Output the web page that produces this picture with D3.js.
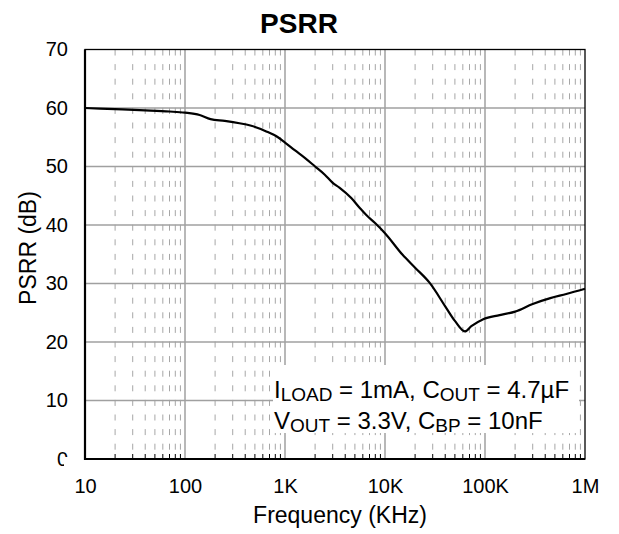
<!DOCTYPE html>
<html>
<head>
<meta charset="utf-8">
<script src="https://cdn.jsdelivr.net/npm/d3@7"></script>
<style>
  body { margin: 0; background: #fff; }
  svg { display: block; font-family: "Liberation Sans", Arial, sans-serif; }
</style>
</head>
<body>
<svg id="chart" width="619" height="534"></svg>
<script>
// ---- data (frequency in KHz as labelled on the axis, PSRR in dB) ----
const freqs = [10, 20, 40, 70, 100, 140, 180, 250, 350, 450, 650, 850, 1000, 1250, 1600, 2000, 2500, 3000, 3500, 4600, 5600, 6500, 8000, 10000, 15000, 20000, 28000, 40000, 50000, 63000, 73000, 96000, 140000, 200000, 300000, 450000, 650000, 1000000];
const psrr  = [60.0, 59.8, 59.6, 59.4, 59.2, 58.8, 58.1, 57.8, 57.4, 57.0, 56.0, 55.0, 54.1, 52.8, 51.4, 50.0, 48.6, 47.2, 46.4, 44.6, 42.9, 41.7, 40.3, 38.6, 34.9, 32.7, 30.1, 26.1, 23.6, 21.8, 22.7, 23.9, 24.6, 25.2, 26.5, 27.5, 28.2, 29.1];
const xTickValues = [10, 100, 1000, 10000, 100000, 1000000];
const xTickLabels = ["10", "100", "1K", "10K", "100K", "1M"];
const yTickValues = [0, 10, 20, 30, 40, 50, 60, 70];
const titleText = "PSRR";
const xTitle = "Frequency (KHz)";
const yTitle = "PSRR (dB)";

const svg = d3.select("#chart");
const L = 85, R = 585, T = 49.5, B = 459;
const x = d3.scaleLog().domain([10, 1e6]).range([L, R]);
const y = d3.scaleLinear().domain([0, 70]).range([B, T]);

// minor (dashed) vertical grid
const minor = [];
for (let d = 10; d < 1e6; d *= 10) for (let k = 2; k <= 9; k++) minor.push(d * k);

const grid = svg.append("g");
grid.selectAll("line.minor").data(minor).join("line")
  .attr("x1", d => x(d)).attr("x2", d => x(d))
  .attr("y1", T).attr("y2", B)
  .attr("stroke", "#a6a6a6").attr("stroke-width", 1)
  .attr("stroke-dasharray", "6,8.6");
// major vertical grid
grid.selectAll("line.vmaj").data(xTickValues.slice(1, -1)).join("line")
  .attr("x1", d => x(d)).attr("x2", d => x(d))
  .attr("y1", T).attr("y2", B)
  .attr("stroke", "#a0a0a0").attr("stroke-width", 1.5);
// major horizontal grid
grid.selectAll("line.hmaj").data(yTickValues.slice(1, -1)).join("line")
  .attr("x1", L).attr("x2", R)
  .attr("y1", d => y(d)).attr("y2", d => y(d))
  .attr("stroke", "#a0a0a0").attr("stroke-width", 1.5);

// minor ticks at bottom (inside)
svg.append("g").selectAll("line").data(minor).join("line")
  .attr("x1", d => x(d)).attr("x2", d => x(d))
  .attr("y1", B - 5).attr("y2", B)
  .attr("stroke", "#000").attr("stroke-width", 1);

// annotation box (covers grid)
svg.append("rect").attr("x", 273).attr("y", 365).attr("width", 306).attr("height", 68)
  .attr("fill", "#fff");

// curve
const line = d3.line().x((d, i) => x(freqs[i])).y(d => y(d)).curve(d3.curveMonotoneX);
svg.append("path").datum(psrr)
  .attr("d", line).attr("fill", "none")
  .attr("stroke", "#000").attr("stroke-width", 2.2).attr("stroke-linejoin", "round");

// frame
svg.append("rect").attr("x", L).attr("y", T).attr("width", R - L).attr("height", B - T)
  .attr("fill", "none").attr("stroke", "#000").attr("stroke-width", 1.3);
svg.append("line").attr("x1", L).attr("x2", L).attr("y1", T).attr("y2", B + 1)
  .attr("stroke", "#000").attr("stroke-width", 2.2);
svg.append("line").attr("x1", L).attr("x2", R).attr("y1", B).attr("y2", B)
  .attr("stroke", "#000").attr("stroke-width", 2);

// axes labels
const xAxis = d3.axisBottom(x).tickValues(xTickValues)
  .tickFormat((d, i) => xTickLabels[i]).tickSize(0).tickPadding(20);
const gx = svg.append("g").attr("transform", `translate(0,${B})`).call(xAxis);
gx.select(".domain").remove();
gx.selectAll("text").attr("font-size", 20).attr("fill", "#000")
  .attr("font-family", "Liberation Sans, Arial, sans-serif");

const yAxis = d3.axisLeft(y).tickValues(yTickValues).tickSize(0).tickPadding(17);
const gy = svg.append("g").attr("transform", `translate(${L},0)`).call(yAxis);
gy.select(".domain").remove();
gy.selectAll("text").attr("font-size", 20).attr("fill", "#000")
  .attr("font-family", "Liberation Sans, Arial, sans-serif");
// partly hidden zero label as in the reference
svg.append("rect").attr("x", 64).attr("y", 457).attr("width", 8).attr("height", 12).attr("fill", "#fff");

// titles
svg.append("text").attr("x", 299).attr("y", 33).attr("text-anchor", "middle")
  .attr("font-size", 28).attr("font-weight", "bold").text(titleText);
svg.append("text").attr("x", 340).attr("y", 523).attr("text-anchor", "middle")
  .attr("font-size", 23).text(xTitle);
svg.append("text").attr("transform", "translate(36,248) rotate(-90)").attr("text-anchor", "middle")
  .attr("font-size", 23).text(yTitle);

// annotation text with subscripts
const ann = [
  [["I", false], ["LOAD", true], [" = 1mA, C", false], ["OUT", true], [" = 4.7µF", false]],
  [["V", false], ["OUT", true], [" = 3.3V, C", false], ["BP", true], [" = 10nF", false]]
];
ann.forEach((parts, li) => {
  const t = svg.append("text").attr("x", 274).attr("y", 398 + li * 31).attr("font-size", 24);
  let shifted = 0;
  parts.forEach(([s, sub]) => {
    const dy = sub ? 3 - shifted : -shifted;
    shifted = sub ? 3 : 0;
    t.append("tspan").attr("font-size", sub ? 19 : 24).attr("dy", dy).text(s);
  });
});
</script>
</body>
</html>
